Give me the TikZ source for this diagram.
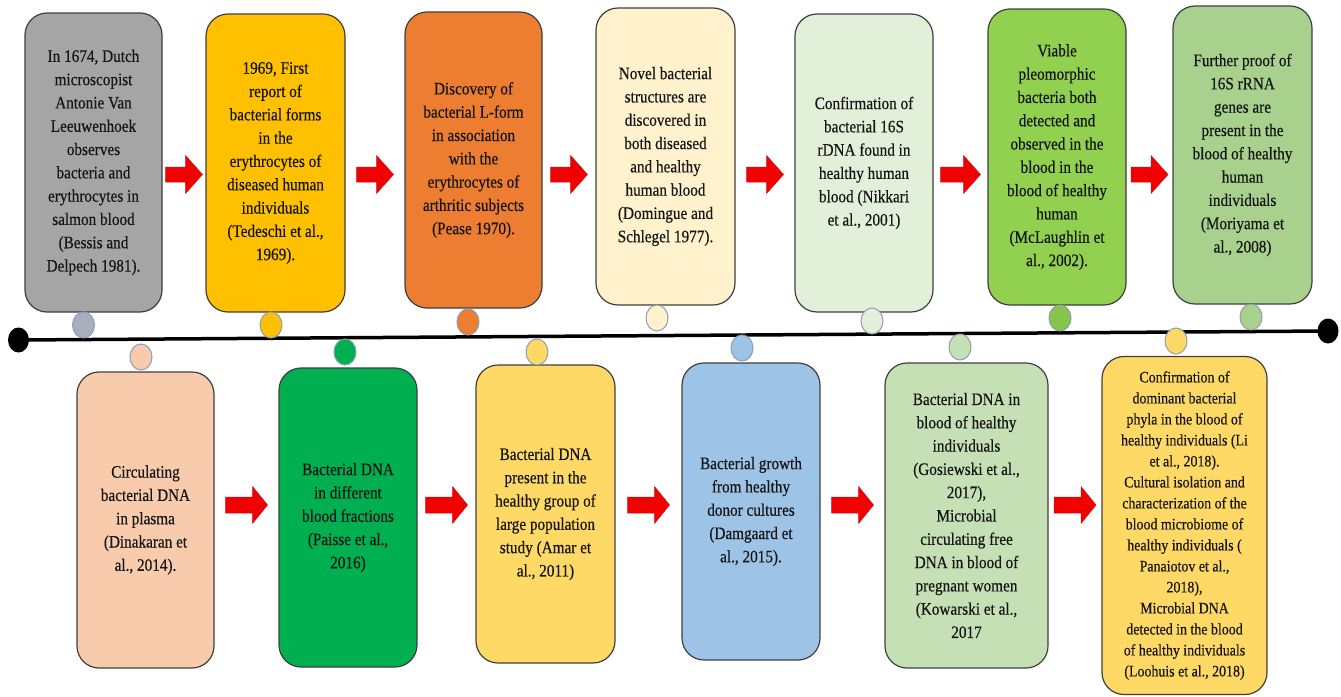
\documentclass[tikz,border=0pt]{standalone}
\usepackage{fontspec}
\setmainfont[FakeStretch=0.87,FakeBold=0.4]{Liberation Serif}
\usetikzlibrary{calc,shapes.geometric}
\definecolor{boxline}{HTML}{3F3F3F}
\definecolor{txt}{HTML}{151515}
\definecolor{pinline}{HTML}{8E9DB2}
\definecolor{arrred}{HTML}{F20000}
\definecolor{arrline}{HTML}{C0141E}
\definecolor{cGray}{HTML}{A5A5A5}
\definecolor{cGrayPin}{HTML}{A7AFBE}
\definecolor{cGold}{HTML}{FFC000}
\definecolor{cOrange}{HTML}{ED7D31}
\definecolor{cCream}{HTML}{FFF2CC}
\definecolor{cPaleGreen}{HTML}{E2F0D9}
\definecolor{cLime}{HTML}{92D050}
\definecolor{cLimePin}{HTML}{86C44A}
\definecolor{cSage}{HTML}{A9D18E}
\definecolor{cPeach}{HTML}{F8CBAD}
\definecolor{cGreen}{HTML}{00B050}
\definecolor{cYellow}{HTML}{FFD966}
\definecolor{cBlue}{HTML}{9DC3E6}
\definecolor{cLightGreen}{HTML}{C5E0B4}
\tikzset{
  eventbox/.style={draw=boxline, line width=1.2pt, rounded corners=22pt,
    inner sep=0pt, align=center, text=txt,
    font=\fontsize{17.5}{23.3}\selectfont},
  smalltext/.style={font=\fontsize{16}{21}\selectfont},
  pin/.style={ellipse, draw=pinline, line width=1pt, inner sep=0pt,
    minimum width=22pt, minimum height=26pt},
  enddot/.style={ellipse, fill=black, inner sep=0pt,
    minimum width=21pt, minimum height=25pt},
  timeline/.style={line width=3.5pt, black},
  blockarr/.style={fill=arrred, draw=arrline, line width=0.5pt, line join=miter},
}
% #1 left node, #2 right node, #3 coordinate giving y, #4 length, #5 shaft half, #6 head half, #7 head length
\newcommand\blockarrow[7]{%
  \path ($(#1.east)!0.5!(#2.west)$) coordinate (mx);
  \coordinate (m) at (mx |- #3);
  \draw[blockarr] ($(m)+({-#4/2},{-#5})$) -- ($(m)+({#4/2-#7},{-#5})$)
    -- ($(m)+({#4/2-#7},{-#6})$) -- ($(m)+({#4/2},0)$)
    -- ($(m)+({#4/2-#7},{#6})$) -- ($(m)+({#4/2-#7},{#5})$)
    -- ($(m)+({-#4/2},{#5})$) -- cycle;
}
\begin{document}
\begin{tikzpicture}[x=1pt,y=-1pt]
\useasboundingbox (0,0) rectangle (1341,696);
\fill[white] (0,0) rectangle (1341,696);

% timeline
\node[enddot] (L) at (18.5,340) {};
\node[enddot] (R) at (1328,331) {};
\draw[timeline] (L.center) -- (R.center);

% top boxes
\node[eventbox, fill=cGray, minimum width=137pt, minimum height=299pt] (t1) at (93.5,162.5)
 {In 1674, Dutch\\microscopist\\Antonie Van\\Leeuwenhoek\\observes\\bacteria and\\erythrocytes in\\salmon blood\\(Bessis and\\Delpech 1981).};
\node[eventbox, fill=cGold, minimum width=139pt, minimum height=298pt] (t2) at (275.5,163)
 {1969, First\\report of\\bacterial forms\\in the\\erythrocytes of\\diseased human\\individuals\\(Tedeschi et al.,\\1969).};
\node[eventbox, fill=cOrange, minimum width=137pt, minimum height=296pt] (t3) at (473.5,160)
 {Discovery of\\bacterial L-form\\in association\\with the\\erythrocytes of\\arthritic subjects\\(Pease 1970).};
\node[eventbox, fill=cCream, minimum width=139pt, minimum height=297pt] (t4) at (665.5,156.5)
 {Novel bacterial\\structures are\\discovered in\\both diseased\\and healthy\\human blood\\(Domingue and\\Schlegel 1977).};
\node[eventbox, fill=cPaleGreen, minimum width=138pt, minimum height=298pt] (t5) at (864,163)
 {Confirmation of\\bacterial 16S\\rDNA found in\\healthy human\\blood (Nikkari\\et al., 2001)};
\node[eventbox, fill=cLime, minimum width=138pt, minimum height=296pt] (t6) at (1057,157)
 {Viable\\pleomorphic\\bacteria both\\detected and\\observed in the\\blood in the\\blood of healthy\\human\\(McLaughlin et\\al., 2002).};
\node[eventbox, fill=cSage, minimum width=139pt, minimum height=298pt] (t7) at (1242.5,155)
 {Further proof of\\16S rRNA\\genes are\\present in the\\blood of healthy\\human\\individuals\\(Moriyama et\\al., 2008)};

% bottom boxes
\node[eventbox, fill=cPeach, minimum width=137pt, minimum height=296pt] (b1) at (145.5,520)
 {Circulating\\bacterial DNA\\in plasma\\(Dinakaran et\\al., 2014).};
\node[eventbox, fill=cGreen, minimum width=138pt, minimum height=299pt] (b2) at (348,517.5)
 {Bacterial DNA\\in different\\blood fractions\\(Paisse et al.,\\2016)};
\node[eventbox, fill=cYellow, minimum width=139pt, minimum height=298pt] (b3) at (545.5,514)
 {Bacterial DNA\\present in the\\healthy group of\\large population\\study (Amar et\\al., 2011)};
\node[eventbox, fill=cBlue, minimum width=138pt, minimum height=297pt] (b4) at (751,511.5)
 {Bacterial growth\\from healthy\\donor cultures\\(Damgaard et\\al., 2015).};
\node[eventbox, fill=cLightGreen, minimum width=163pt, minimum height=305pt] (b5) at (966.5,515.5)
 {Bacterial DNA in\\blood of healthy\\individuals\\(Gosiewski et al.,\\2017),\\Microbial\\circulating free\\DNA in blood of\\pregnant women\\(Kowarski et al.,\\2017};
\node[eventbox, smalltext, fill=cYellow, minimum width=165pt, minimum height=338pt] (b6) at (1184.5,525.5)
 {Confirmation of\\dominant bacterial\\phyla in the blood of\\healthy individuals (Li\\et al., 2018).\\Cultural isolation and\\characterization of the\\blood microbiome of\\healthy individuals (\\Panaiotov et al.,\\2018),\\Microbial DNA\\detected in the blood\\of healthy individuals\\(Loohuis et al., 2018)};

% pins on the timeline
\node[pin, fill=cGrayPin] (p1) at (83.5,325) {};
\node[pin, fill=cGold] (p2) at (271,325) {};
\node[pin, fill=cOrange] (p3) at (468,322) {};
\node[pin, fill=cCream] (p4) at (657,318) {};
\node[pin, fill=cPaleGreen] (p5) at (872,321) {};
\node[pin, fill=cLimePin] (p6) at (1060,318) {};
\node[pin, fill=cSage] (p7) at (1251,317) {};
\node[pin, fill=cPeach] (q1) at (141,357) {};
\node[pin, fill=cGreen] (q2) at (345,352) {};
\node[pin, fill=cYellow] (q3) at (537,352) {};
\node[pin, fill=cBlue] (q4) at (742,348) {};
\node[pin, fill=cLightGreen] (q5) at (960,347) {};
\node[pin, fill=cYellow] (q6) at (1176,341) {};

% arrows
\coordinate (ytop) at (0,174.5);
\coordinate (ybot) at (0,505);
\blockarrow{t1}{t2}{ytop}{37}{7.5}{19}{17}
\blockarrow{t2}{t3}{ytop}{37}{7.5}{19}{17}
\blockarrow{t3}{t4}{ytop}{37}{7.5}{19}{17}
\blockarrow{t4}{t5}{ytop}{37}{7.5}{19}{17}
\blockarrow{t5}{t6}{ytop}{40}{7.5}{19}{17}
\blockarrow{t6}{t7}{ytop}{37}{7.5}{19}{17}
\blockarrow{b1}{b2}{ybot}{42}{8}{18.5}{15}
\blockarrow{b2}{b3}{ybot}{42}{8}{18.5}{15}
\blockarrow{b3}{b4}{ybot}{42}{8}{18.5}{15}
\blockarrow{b4}{b5}{ybot}{42}{8}{18.5}{15}
\blockarrow{b5}{b6}{ybot}{42}{8}{18.5}{15}
\end{tikzpicture}
\end{document}
